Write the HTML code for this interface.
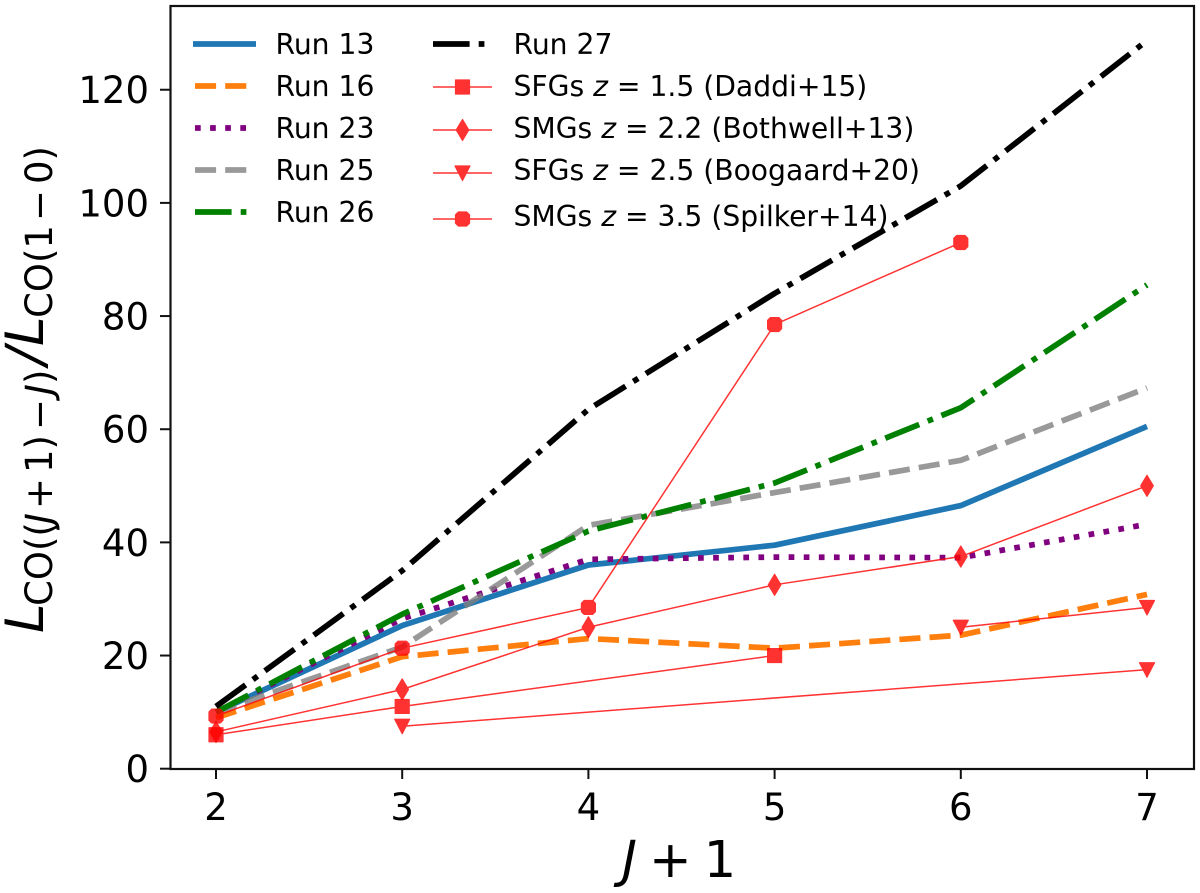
<!DOCTYPE html>
<html lang="en">
<head>
<meta charset="utf-8">
<title>CO line luminosity ratios</title>
<style>
html,body{margin:0;padding:0;background:#fff;}
svg{display:block;font-family:"DejaVu Sans","Liberation Sans",sans-serif;}
.tick{font-size:37px;fill:#000;}
.leg{font-size:28.2px;fill:#000;}
.mi{font-style:italic;}
</style>
</head>
<body>
<svg id="chart" width="1200" height="893" viewBox="0 0 1200 893" xmlns="http://www.w3.org/2000/svg">
<rect x="0" y="0" width="1200" height="893" fill="#fff"/>
<g id="series"></g>
<rect x="170.5" y="6" width="1023.5" height="763" fill="none" stroke="#111" stroke-width="2.2"/>
<g id="ticks"></g>
<text x="622" y="877" font-size="51" fill="#000"><tspan class="mi">J</tspan><tspan dx="12">+</tspan><tspan dx="12">1</tspan></text>
<text transform="translate(43,633) rotate(-90)" font-size="53" fill="#000"><tspan class="mi" x="0">L</tspan><tspan font-size="37" x="27" dy="9">CO((</tspan><tspan font-size="37" x="109" class="mi">J</tspan><tspan font-size="37" x="124">+</tspan><tspan font-size="37" x="160">1)</tspan><tspan font-size="37" x="203">−</tspan><tspan font-size="37" x="238" class="mi">J</tspan><tspan font-size="37" x="249">)</tspan><tspan dy="-9" class="mi" x="268">/</tspan><tspan class="mi" x="287">L</tspan><tspan font-size="37" x="315" dy="9">CO(1</tspan><tspan font-size="37" x="412">−</tspan><tspan font-size="37" x="449">0)</tspan></text>
<g id="legend">
<text class="leg" x="275.5" y="54">Run 13</text>
<text class="leg" x="275.5" y="96">Run 16</text>
<text class="leg" x="275.5" y="138">Run 23</text>
<text class="leg" x="275.5" y="180">Run 25</text>
<text class="leg" x="275.5" y="222">Run 26</text>
<text class="leg" x="513.5" y="54">Run 27</text>
<text class="leg" x="513.5" y="96">SFGs <tspan class="mi">z</tspan> = 1.5 (Daddi+15)</text>
<text class="leg" x="513.5" y="138">SMGs <tspan class="mi">z</tspan> = 2.2 (Bothwell+13)</text>
<text class="leg" x="513.5" y="180">SFGs <tspan class="mi">z</tspan> = 2.5 (Boogaard+20)</text>
<text class="leg" x="513.5" y="226">SMGs <tspan class="mi">z</tspan> = 3.5 (Spilker+14)</text>
</g>
</svg>
<script>
const xTicks = [2, 3, 4, 5, 6, 7];
const yTicks = [0, 20, 40, 60, 80, 100, 120];
const jValues = [2, 3, 4, 5, 6, 7];
const run13 = [10, 25.3, 36, 39.5, 46.5, 60.5];
const run16 = [9, 19.8, 23, 21.3, 23.6, 30.8];
const run23 = [10, 26.5, 37, 37.4, 37.3, 43.2];
const run25 = [10, 21.5, 43, 48.8, 54.5, 67.3];
const run26 = [10, 27.3, 42, 50.5, 63.8, 85.5];
const run27 = [11, 35, 63.5, 84, 103, 128.7];
const daddiJ = [2, 3, 5];
const daddiValues = [6, 11, 20];
const bothwellJ = [2, 3, 4, 5, 6, 7];
const bothwellValues = [6.5, 14, 25, 32.5, 37.5, 50];
const boogaardLowJ = [3, 7];
const boogaardLowValues = [7.5, 17.5];
const boogaardHighJ = [6, 7];
const boogaardHighValues = [25, 28.5];
const spilkerJ = [2, 3, 4, 5, 6];
const spilkerValues = [9.3, 21.3, 28.5, 78.5, 93];

const NS = 'http://www.w3.org/2000/svg';
const xScale = j => 216 + (j - 2) * 186.2;
const yScale = v => 768.7 - v * 5.658;
const seriesLayer = document.getElementById('series');
const tickLayer = document.getElementById('ticks');
const legendLayer = document.getElementById('legend');

function pathFrom(xs, ys) {
  return xs.map((x, i) => (i ? 'L' : 'M') + xScale(x).toFixed(2) + ' ' + yScale(ys[i]).toFixed(2)).join(' ');
}
function drawRun(name, ys, color, dash, opacity) {
  const p = document.createElementNS(NS, 'path');
  
  
  p.setAttribute('d', pathFrom(jValues, ys));
  styleRun(p, color, dash, opacity);
  seriesLayer.appendChild(p);
}
function styleRun(p, color, dash, opacity) {
  p.setAttribute('fill', 'none');
  p.setAttribute('stroke', color);
  p.setAttribute('stroke-width', '5.7');
  p.setAttribute('stroke-linejoin', 'round');
  p.setAttribute('stroke-opacity', opacity);
  if (dash) p.setAttribute('stroke-dasharray', dash);
}
function markerPath(kind, cx, cy) {
  let pts;
  if (kind === 'square') pts = [[-7, -7], [7, -7], [7, 7], [-7, 7]];
  else if (kind === 'diamond') pts = [[0, -10.5], [6.3, 0], [0, 10.5], [-6.3, 0]];
  else if (kind === 'triangle') pts = [[-7.5, -7], [7.5, -7], [0, 7.5]];
  else pts = [[-4.2, -7], [4.2, -7], [7, -4.2], [7, 4.2], [4.2, 7], [-4.2, 7], [-7, 4.2], [-7, -4.2]];
  return 'M' + pts.map(q => (cx + q[0]).toFixed(2) + ' ' + (cy + q[1]).toFixed(2)).join(' L') + ' Z';
}
function drawObs(name, xs, ys, kind) {
  const g = document.createElementNS(NS, 'g');
  
  
  g.setAttribute('opacity', '0.8');
  const l = document.createElementNS(NS, 'path');
  
  
  l.setAttribute('d', pathFrom(xs, ys));
  l.setAttribute('fill', 'none');
  l.setAttribute('stroke', '#ff0000');
  l.setAttribute('stroke-width', '1.5');
  g.appendChild(l);
  xs.forEach((x, i) => {
    const m = document.createElementNS(NS, 'path');
    
    
    m.setAttribute('d', markerPath(kind, xScale(x), yScale(ys[i])));
    m.setAttribute('fill', '#ff0000');
    m.setAttribute('stroke', '#ff0000');
    m.setAttribute('stroke-width', '1.2');
    m.setAttribute('stroke-linejoin', 'round');
    g.appendChild(m);
  });
  seriesLayer.appendChild(g);
}

const DASHED = '21.1 9.1';
const DOTTED = '5.7 9.4';
const DASHDOT = '36.6 9.1 5.7 9.1';
drawRun('line-run-13', run13, '#1f77b4', '', '1');
drawRun('line-run-16', run16, '#ff7f0e', DASHED, '1');
drawRun('line-run-23', run23, '#800080', DOTTED, '1');
drawRun('line-run-25', run25, '#808080', DASHED, '0.8');
drawRun('line-run-26', run26, '#008000', DASHDOT, '1');
drawRun('line-run-27', run27, '#000000', DASHDOT, '1');
drawObs('series-sfgs-daddi', daddiJ, daddiValues, 'square');
drawObs('series-smgs-bothwell', bothwellJ, bothwellValues, 'diamond');
drawObs('series-sfgs-boogaard-low', boogaardLowJ, boogaardLowValues, 'triangle');
drawObs('series-sfgs-boogaard-high', boogaardHighJ, boogaardHighValues, 'triangle');
drawObs('series-smgs-spilker', spilkerJ, spilkerValues, 'octagon');

xTicks.forEach(t => {
  const m = document.createElementNS(NS, 'line');
  
  
  m.setAttribute('x1', xScale(t));
  m.setAttribute('x2', xScale(t));
  m.setAttribute('y1', 769);
  m.setAttribute('y2', 779);
  m.setAttribute('stroke', '#111');
  m.setAttribute('stroke-width', '2');
  tickLayer.appendChild(m);
  const s = document.createElementNS(NS, 'text');
  
  
  s.setAttribute('class', 'tick');
  s.setAttribute('x', xScale(t));
  s.setAttribute('y', 820);
  s.setAttribute('text-anchor', 'middle');
  s.textContent = t;
  tickLayer.appendChild(s);
});
yTicks.forEach(t => {
  const m = document.createElementNS(NS, 'line');
  
  
  m.setAttribute('x1', 160);
  m.setAttribute('x2', 170);
  m.setAttribute('y1', yScale(t));
  m.setAttribute('y2', yScale(t));
  m.setAttribute('stroke', '#111');
  m.setAttribute('stroke-width', '2');
  tickLayer.appendChild(m);
  const s = document.createElementNS(NS, 'text');
  
  
  s.setAttribute('class', 'tick');
  s.setAttribute('x', 149);
  s.setAttribute('y', yScale(t) + 13.5);
  s.setAttribute('text-anchor', 'end');
  s.textContent = t;
  tickLayer.appendChild(s);
});

function legendRun(name, x1, x2, y, color, dash, opacity) {
  const l = document.createElementNS(NS, 'line');
  
  
  l.setAttribute('x1', x1);
  l.setAttribute('x2', x2);
  l.setAttribute('y1', y);
  l.setAttribute('y2', y);
  styleRun(l, color, dash, opacity);
  legendLayer.appendChild(l);
}
function legendObs(name, y, kind) {
  const g = document.createElementNS(NS, 'g');
  
  
  g.setAttribute('opacity', '0.8');
  const l = document.createElementNS(NS, 'line');
  
  
  l.setAttribute('x1', 433);
  l.setAttribute('x2', 492);
  l.setAttribute('y1', y);
  l.setAttribute('y2', y);
  l.setAttribute('stroke', '#ff0000');
  l.setAttribute('stroke-width', '1.5');
  g.appendChild(l);
  const m = document.createElementNS(NS, 'path');
  
  
  m.setAttribute('d', markerPath(kind, 462.5, y));
  m.setAttribute('fill', '#ff0000');
  m.setAttribute('stroke', '#ff0000');
  m.setAttribute('stroke-width', '1.2');
  m.setAttribute('stroke-linejoin', 'round');
  g.appendChild(m);
  legendLayer.appendChild(g);
}
legendRun('legend-handle-run-13', 193, 256, 44, '#1f77b4', '', '1');
legendRun('legend-handle-run-16', 195, 248, 86, '#ff7f0e', DASHED, '1');
legendRun('legend-handle-run-23', 195, 248, 128, '#800080', DOTTED, '1');
legendRun('legend-handle-run-25', 195, 248, 170, '#808080', DASHED, '0.8');
legendRun('legend-handle-run-26', 195, 248, 212, '#008000', DASHDOT, '1');
legendRun('legend-handle-run-27', 433, 486, 44, '#000000', DASHDOT, '1');
legendObs('legend-handle-sfgs-daddi', 87, 'square');
legendObs('legend-handle-smgs-bothwell', 130, 'diamond');
legendObs('legend-handle-sfgs-boogaard', 173, 'triangle');
legendObs('legend-handle-smgs-spilker', 219, 'octagon');
</script>
</body>
</html>
